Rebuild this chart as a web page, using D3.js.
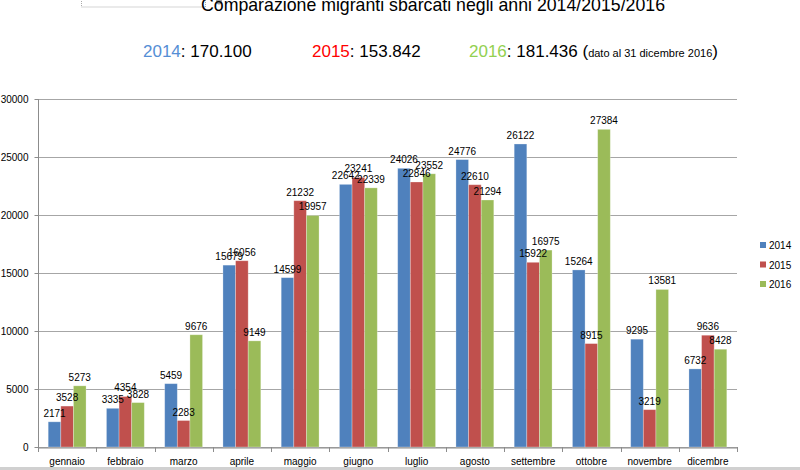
<!DOCTYPE html>
<html><head><meta charset="utf-8">
<script src="https://cdn.jsdelivr.net/npm/d3@7"></script>
<style>html,body{margin:0;padding:0;background:#fff;}svg{display:block;font-family:"Liberation Sans",Arial,sans-serif;}</style>
</head><body>
<svg id="chart" width="800" height="470"></svg>
<script>
const months = ["gennaio","febbraio","marzo","aprile","maggio","giugno","luglio","agosto","settembre","ottobre","novembre","dicembre"];
const seriesNames = ["2014","2015","2016"];
const values2014 = [2171,3335,5459,15679,14599,22642,24026,24776,26122,15264,9295,6732];
const values2015 = [3528,4354,2283,16056,21232,23241,22846,22610,15922,8915,3219,9636];
const values2016 = [5273,3828,9676,9149,19957,22339,23552,21294,16975,27384,13581,8428];
const yTicks = [0,5000,10000,15000,20000,25000,30000];
const totals = ["170.100","153.842","181.436"];
const titleText = "Comparazione migranti sbarcati negli anni 2014/2015/2016";
const noteText = "dato al 31 dicembre 2016";

(function(){
const barColors = ["#4f81bd","#c0504d","#9bbb59"];
const headColors = ["#558ed5","#ff0000","#92d050"];
const allValues = [values2014, values2015, values2016];

const svg = d3.select("#chart");
const pLeft = 38, pRight = 737, pTop = 99, pBottom = 447;

const y = d3.scaleLinear().domain([0,30000]).range([pBottom, pTop]);
const x0 = d3.scaleBand().domain(months).range([pLeft, pRight]).paddingInner(0.35).paddingOuter(0.175);
const x1 = d3.scaleBand().domain(seriesNames).range([0, x0.bandwidth()]);

// decoration top-left (dotted selection box)
svg.append("rect").attr("x",81.5).attr("y",-20).attr("width",124).attr("height",27)
  .attr("fill","none").attr("stroke","#aaa").attr("stroke-dasharray","1,1").attr("stroke-width",1);
svg.append("circle").attr("cx",219).attr("cy",1.5).attr("r",3).attr("fill","#999");

// title
svg.append("text").attr("x",433).attr("y",11).attr("text-anchor","middle")
  .attr("font-size",19).attr("fill","#000").attr("textLength",464).attr("lengthAdjust","spacingAndGlyphs")
  .text(titleText);

// subtitle
const subX = [143, 312, 469];
seriesNames.forEach((s,i) => {
  const t = svg.append("text").attr("x",subX[i]).attr("y",57).attr("font-size",17).attr("fill","#000");
  t.append("tspan").attr("fill",headColors[i]).text(s);
  t.append("tspan").text(": " + totals[i]);
  if (i === 2) {
    t.append("tspan").text(" (");
    t.append("tspan").attr("font-size",11).text(noteText);
    t.append("tspan").text(")");
  }
});

// gridlines
svg.append("g").selectAll("line").data(yTicks).join("line")
  .attr("x1",pLeft).attr("x2",pRight).attr("y1",d=>y(d)+0.5).attr("y2",d=>y(d)+0.5)
  .attr("stroke","#a6a6a6").attr("stroke-width",1);

// y axis
const yAxis = svg.append("g").attr("transform",`translate(${pLeft+0.5},0)`)
  .call(d3.axisLeft(y).tickValues(yTicks).tickSize(4).tickPadding(6).tickFormat(d3.format("d")));
yAxis.select(".domain").attr("stroke","#8c8c8c").attr("d",`M0,${pTop}V${pBottom+4}`);
yAxis.selectAll(".tick line").attr("stroke","#8c8c8c");
yAxis.selectAll(".tick text").attr("font-size",10).attr("fill","#000").attr("font-family","Liberation Sans, Arial, sans-serif");

// x axis
const xAxis = svg.append("g").attr("transform",`translate(0,${pBottom+0.5})`)
  .call(d3.axisBottom(x0).tickSize(0).tickPadding(10));
xAxis.select(".domain").attr("stroke","#8c8c8c");
xAxis.selectAll(".tick text").attr("font-size",10).attr("fill","#000").attr("font-family","Liberation Sans, Arial, sans-serif");
// category separator ticks
const step = x0.step();
svg.append("g").selectAll("line").data(d3.range(months.length+1)).join("line")
  .attr("x1",i=>Math.round(pLeft + i*step)+0.5).attr("x2",i=>Math.round(pLeft + i*step)+0.5)
  .attr("y1",pBottom).attr("y2",pBottom+5).attr("stroke","#8c8c8c");

// bars
const groups = svg.append("g").selectAll("g").data(months).join("g")
  .attr("transform",d=>`translate(${x0(d)},0)`);
groups.selectAll("rect").data((m,i)=>seriesNames.map((s,k)=>({s, k, v: allValues[k][i]}))).join("rect")
  .attr("x",d=>x1(d.s)).attr("width",x1.bandwidth())
  .attr("y",d=>y(d.v)).attr("height",d=>pBottom - y(d.v))
  .attr("fill",d=>barColors[d.k]).attr("stroke","rgba(255,255,255,0.35)").attr("stroke-width",0.8);

// labels
groups.selectAll("text.lbl").data((m,i)=>seriesNames.map((s,k)=>({s, k, v: allValues[k][i]}))).join("text")
  .attr("class","lbl")
  .attr("x",d=>x1(d.s)+x1.bandwidth()/2).attr("y",d=>y(d.v)-5)
  .attr("text-anchor","middle").attr("font-size",10).attr("fill","#000")
  .text(d=>d.v);

// legend
const lg = svg.append("g").selectAll("g").data(seriesNames).join("g")
  .attr("transform",(d,i)=>`translate(760,${245 + i*19.5})`);
lg.append("rect").attr("x",0).attr("y",-3).attr("width",6).attr("height",6).attr("fill",(d,i)=>barColors[i]);
lg.append("text").attr("x",9).attr("y",4).attr("font-size",10).attr("fill","#000").text(d=>d);

// bottom border
svg.append("rect").attr("x",0).attr("y",467).attr("width",800).attr("height",3).attr("fill","#d0d0d0");
})();
</script>
</body></html>
